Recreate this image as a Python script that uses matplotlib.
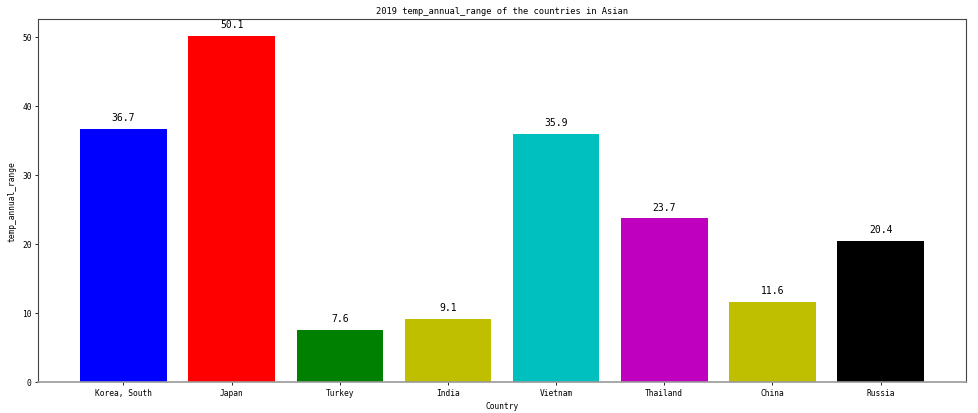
import matplotlib
matplotlib.use("Agg")
import matplotlib.pyplot as plt

countries = ["Korea, South", "Japan", "Turkey", "India", "Vietnam", "Thailand", "China", "Russia"]
values = [36.7, 50.1, 7.6, 9.1, 35.9, 23.7, 11.6, 20.4]
colors = ["b", "r", "g", "y", "c", "m", "y", "k"]

plt.rcParams['font.family'] = ['DejaVu Sans Mono']

fig = plt.figure(figsize=(9.79, 4.14), dpi=100)
ax = fig.add_axes([0.0388, 0.0749, 0.948, 0.8768])
x = range(len(countries))
bars = ax.bar(x, values, color=colors, width=0.8)
for b, v in zip(bars, values):
    ax.text(b.get_x() + b.get_width() / 2, v + 1.0, f"{v}", ha="center", va="bottom", fontsize=7)
ax.set_xticks(list(x))
ax.set_xticklabels(countries, fontsize=5.7)
ax.tick_params(axis='y', labelsize=5.7, length=2.5, width=0.6, pad=2)
ax.tick_params(axis='x', length=2.5, width=0.6, pad=2)
ax.set_xlabel("Country", fontsize=5.7, labelpad=3)
ax.set_ylabel("temp_annual_range", fontsize=5.7, labelpad=4)
ax.set_title("2019 temp_annual_range of the countries in Asian", fontsize=6.3, pad=4)
for s in ax.spines.values():
    s.set_color("#444444")
    s.set_linewidth(0.8)
ax.spines['bottom'].set_color("#999999")
ax.spines['bottom'].set_linewidth(1.2)
fig.savefig("out.png", dpi=100)
